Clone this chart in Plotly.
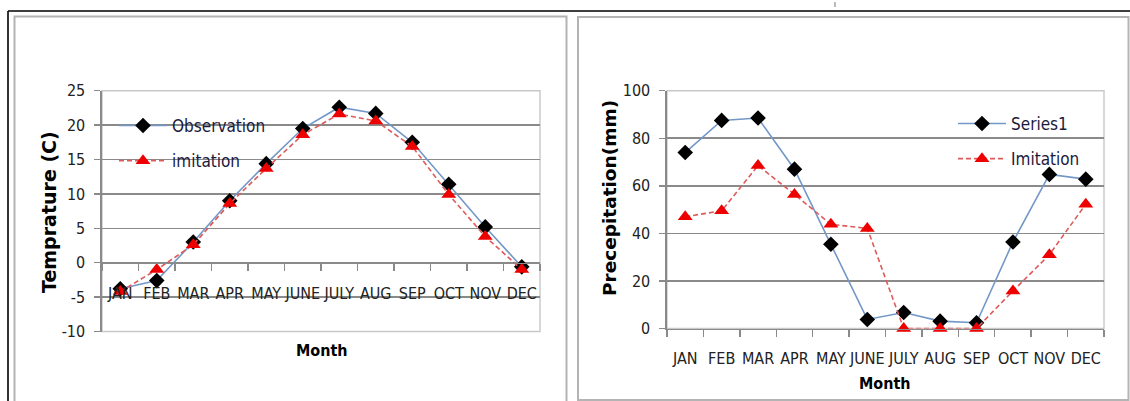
import plotly.graph_objects as go

W, H = 1130, 401

months = ["JAN", "FEB", "MAR", "APR", "MAY", "JUNE", "JULY", "AUG", "SEP", "OCT", "NOV", "DEC"]

temp_observation = [-3.8, -2.6, 3.0, 9.0, 14.4, 19.5, 22.6, 21.7, 17.5, 11.4, 5.2, -0.6]
temp_imitation = [-4.2, -1.0, 2.6, 8.6, 13.7, 18.6, 21.6, 20.6, 16.9, 9.9, 3.8, -1.0]

prec_series1 = [74, 87.5, 88.5, 67, 35.4, 3.8, 6.7, 3.1, 2.4, 36.4, 64.8, 62.8]
prec_imitation = [47, 49.5, 68.5, 56.4, 43.8, 42.1, 0, 0, 0, 15.8, 31, 52.3]

temp_ticks = [-10, -5, 0, 5, 10, 15, 20, 25]
temp_tick_labels = ["-10", "-5", "0", "5", "10", "15", "20", "25"]
prec_ticks = [0, 20, 40, 60, 80, 100]
prec_tick_labels = ["0", "20", "40", "60", "80", "100"]

temp_range = [-10, 25]
prec_range = [0, 100]

NARROW = "DejaVu Sans Condensed, Liberation Sans Narrow, Roboto, sans-serif"
BOLD = "DejaVu Sans, sans-serif"
GRID = "#8a8a8a"
BLUE = "#7398c8"
RED = "#de5a5a"


def px_x(x):
    return x / W


def px_y(y):
    return (H - y) / H


fig = go.Figure()

obs_marker = dict(symbol="diamond", size=12, color="black", line=dict(width=0))
tri_marker = dict(symbol="triangle-up", size=13, color="#ee0000", line=dict(width=0))
dash = "5px,3px"

fig.add_trace(go.Scatter(x=months, y=temp_observation, name="Observation", mode="lines+markers",
                         line=dict(color=BLUE, width=1.6), marker=obs_marker,
                         xaxis="x", yaxis="y", legend="legend", legendgroup="a", cliponaxis=False))
fig.add_trace(go.Scatter(x=months, y=temp_imitation, name="imitation", mode="lines+markers",
                         line=dict(color=RED, width=1.6, dash=dash), marker=tri_marker,
                         xaxis="x", yaxis="y", legend="legend", legendgroup="b", cliponaxis=False))
fig.add_trace(go.Scatter(x=months, y=prec_series1, name="Series1", mode="lines+markers",
                         line=dict(color=BLUE, width=1.6), marker=obs_marker,
                         xaxis="x2", yaxis="y2", legend="legend2", legendgroup="c", cliponaxis=False))
fig.add_trace(go.Scatter(x=months, y=prec_imitation, name="Imitation", mode="lines+markers",
                         line=dict(color=RED, width=1.6, dash=dash), marker=tri_marker,
                         xaxis="x2", yaxis="y2", legend="legend2", legendgroup="d", cliponaxis=False))

y1_dom = [px_y(331.5), px_y(90.7)]
y2_dom = [px_y(328.5), px_y(90.7)]
x_zero_pos = y1_dom[0] + (0 - temp_range[0]) / (temp_range[1] - temp_range[0]) * (y1_dom[1] - y1_dom[0])

tickfont = dict(family=NARROW, size=16, color="#222")

common_y = dict(showgrid=True, gridcolor=GRID, gridwidth=1.6, zeroline=False, showline=True,
                linecolor=GRID, linewidth=1.6, ticks="outside", ticklen=6, tickcolor=GRID,
                tickwidth=1.4, tickfont=tickfont, ticklabelstandoff=6, automargin=False)
common_x = dict(type="category", categoryorder="array", categoryarray=months, showgrid=False,
                zeroline=False, showline=True, linecolor=GRID, linewidth=1.6, ticks="outside",
                tickson="boundaries", ticklen=7, tickcolor=GRID, tickwidth=1.4, tickfont=tickfont,
                tickangle=0, ticklabelstandoff=15, range=[-0.5, 11.5], automargin=False)

legend_font = dict(family=NARROW, size=17, color="#1a1a40")

fig.update_layout(
    width=W, height=H, autosize=False,
    margin=dict(l=0, r=0, t=0, b=0, pad=0, autoexpand=False),
    paper_bgcolor="white", plot_bgcolor="white",
    xaxis=dict(domain=[px_x(102), px_x(540)], anchor="free", position=x_zero_pos, **common_x),
    yaxis=dict(domain=y1_dom, range=temp_range, tickvals=temp_ticks, ticktext=temp_tick_labels,
               anchor="x", **common_y),
    xaxis2=dict(domain=[px_x(667), px_x(1104)], anchor="y2", **common_x),
    yaxis2=dict(domain=y2_dom, range=prec_range, tickvals=prec_ticks, ticktext=prec_tick_labels,
                anchor="x2", **common_y),
    legend=dict(x=px_x(114), y=px_y(108), xanchor="left", yanchor="top", bgcolor="rgba(0,0,0,0)",
                font=legend_font, itemwidth=48, tracegroupgap=10),
    legend2=dict(x=px_x(953), y=px_y(106), xanchor="left", yanchor="top", bgcolor="rgba(0,0,0,0)",
                 font=legend_font, itemwidth=48, tracegroupgap=10),
    showlegend=True,
)

# Axis titles
fig.add_annotation(text="<b>Temprature (C)</b>", x=px_x(49), y=px_y(212), xref="paper", yref="paper",
                   xanchor="center", yanchor="middle", textangle=-90, showarrow=False,
                   font=dict(family=BOLD, size=19, color="black"))
fig.add_annotation(text="<b>Precepitation(mm)</b>", x=px_x(609), y=px_y(198), xref="paper", yref="paper",
                   xanchor="center", yanchor="middle", textangle=-90, showarrow=False,
                   font=dict(family=BOLD, size=18.5, color="black"))
fig.add_annotation(text="<b>Month</b>", x=px_x(322), y=px_y(350), xref="paper", yref="paper",
                   xanchor="center", yanchor="middle", showarrow=False,
                   font=dict(family=NARROW, size=16, color="black"))
fig.add_annotation(text="<b>Month</b>", x=px_x(885), y=px_y(383), xref="paper", yref="paper",
                   xanchor="center", yanchor="middle", showarrow=False,
                   font=dict(family=NARROW, size=16, color="black"))

# Plot-area borders
for xr, yr in (("x domain", "y domain"), ("x2 domain", "y2 domain")):
    fig.add_shape(type="rect", xref=xr, yref=yr, x0=0, x1=1, y0=0, y1=1,
                  line=dict(color="#c8c8c8", width=1.4), layer="below")

# Panel frames
PANEL = "#b4b4b4"
fig.add_shape(type="rect", xref="paper", yref="paper", x0=px_x(14.5), x1=px_x(566.5), y0=px_y(410), y1=px_y(16.5),
              line=dict(color=PANEL, width=2))
fig.add_shape(type="rect", xref="paper", yref="paper", x0=px_x(578), x1=px_x(1128.5), y0=px_y(400), y1=px_y(17),
              line=dict(color=PANEL, width=2))
# Outer black lines
fig.add_shape(type="line", xref="paper", yref="paper", x0=px_x(8), x1=1.0, y0=px_y(11), y1=px_y(11),
              line=dict(color="black", width=1.6))
fig.add_shape(type="line", xref="paper", yref="paper", x0=px_x(8), x1=px_x(8), y0=px_y(11), y1=0,
              line=dict(color="black", width=1.6))
fig.add_shape(type="line", xref="paper", yref="paper", x0=px_x(835), x1=px_x(835), y0=px_y(2), y1=px_y(7),
              line=dict(color="#777", width=1))

fig.write_html(
    "out.html",
    config={"displayModeBar": False, "staticPlot": True},
    post_script=(
        "var s=document.documentElement.style;s.margin='0';s.padding='0';s.overflow='hidden';"
        "var b=document.body.style;b.margin='0';b.padding='0';b.overflow='hidden';"
        "var g=document.getElementById('{plot_id}').style;g.position='fixed';g.left='0';g.top='0';"
    ),
)
